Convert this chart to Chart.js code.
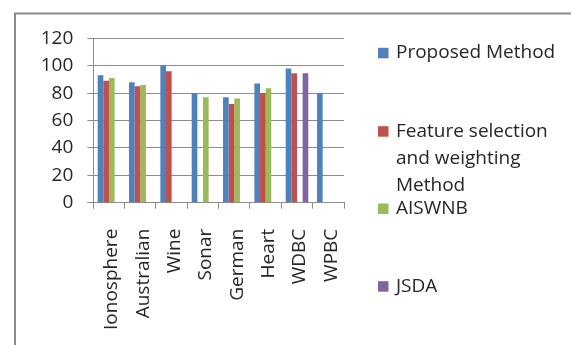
<!DOCTYPE html>
<html>
<head>
<meta charset="utf-8">
<script src="https://cdn.jsdelivr.net/npm/chart.js@4/dist/chart.umd.min.js"></script>
<style>
  html, body { margin: 0; padding: 0; background: #fff; }
  #wrap { position: relative; width: 571px; height: 345px; }
  canvas { display: block; }
</style>
</head>
<body>
<div id="wrap"><canvas id="c" width="571" height="345"></canvas></div>
<script>
// ---- data ----
const categories = ["Ionosphere", "Australian", "Wine", "Sonar", "German", "Heart", "WDBC", "WPBC"];
const seriesNames = ["Proposed Method", "Feature selection and weighting Method", "AISWNB", "JSDA"];
const proposedMethod = [93, 88, 100, 80, 77, 87, 98, 80];
const featureSelection = [89, 85, 96, null, 72, 80, 94.5, null];
const aiswnb = [91, 86, null, 77, 76, 83.5, null, null];
const jsda = [null, null, null, null, null, null, 94.5, null];
const yTicks = [0, 20, 40, 60, 80, 100, 120];

// ---- styles ----
const colors = ["#4F81BD", "#C0504D", "#9BBB59", "#8064A2"];
const FONT = "'Open Sans', 'Liberation Sans', sans-serif";
const gridColor = "#8c8c8c";
const textColor = "#262626";

const seriesValues = [proposedMethod, featureSelection, aiswnb, jsda];

const legendPlugin = {
  id: 'customLegend',
  beforeDraw(chart) {
    const ctx = chart.ctx;
    ctx.save();
    ctx.strokeStyle = "#8a8a8a";
    ctx.lineWidth = 2;
    ctx.beginPath();
    ctx.moveTo(15, 345);
    ctx.lineTo(15, 13.5);
    ctx.lineTo(571, 13.5);
    ctx.stroke();
    ctx.restore();
  },
  afterDraw(chart) {
    const ctx = chart.ctx;
    ctx.save();
    ctx.font = "19px " + FONT;
    ctx.textBaseline = "alphabetic";
    ctx.fillStyle = textColor;
    const baselines = [58.3, 136.7, 214, 291.7];
    const lineH = 27;
    const maxW = 168;
    chart.data.datasets.forEach((ds, i) => {
      const words = ds.label.split(" ");
      const lines = [];
      let cur = "";
      words.forEach(w => {
        const t = cur ? cur + " " + w : w;
        if (ctx.measureText(t).width > maxW && cur) { lines.push(cur); cur = w; }
        else cur = t;
      });
      if (cur) lines.push(cur);
      const b = baselines[i];
      ctx.fillStyle = ds.backgroundColor;
      ctx.fillRect(378, b - 10.5, 10.5, 10.5);
      ctx.fillStyle = textColor;
      lines.forEach((ln, k) => ctx.fillText(ln, 396, b + k * lineH));
    });
    ctx.restore();
  }
};

new Chart(document.getElementById('c'), {
  type: 'bar',
  data: {
    labels: categories,
    datasets: seriesNames.map((n, i) => ({
      label: n,
      data: seriesValues[i],
      backgroundColor: colors[i],
      borderWidth: 0,
      categoryPercentage: 0.72,
      barPercentage: 1.0
    }))
  },
  options: {
    responsive: false,
    animation: false,
    devicePixelRatio: 1,
    layout: { padding: { left: 0, top: 38.3, right: 227, bottom: 0 } },
    plugins: { legend: { display: false }, tooltip: { enabled: false } },
    scales: {
      x: {
        grid: { drawOnChartArea: false, drawTicks: true, tickLength: 6, color: gridColor, offset: true },
        border: { color: gridColor, width: 1 },
        ticks: { color: textColor, font: { family: FONT, size: 19 }, minRotation: 90, maxRotation: 90, padding: 20, labelOffset: 3, autoSkip: false },
        afterFit(s) { s.height = 345 - 202.7; }
      },
      y: {
        min: 0, max: 120,
        afterBuildTicks(s) { s.ticks = yTicks.map(v => ({ value: v })); },
        grid: { color: gridColor, drawTicks: true, tickLength: 6 },
        border: { color: gridColor, width: 1 },
        ticks: { color: textColor, font: { family: FONT, size: 19 }, padding: 14 },
        afterFit(s) { s.width = 93.3; }
      }
    }
  },
  plugins: [legendPlugin]
});
</script>
</body>
</html>
